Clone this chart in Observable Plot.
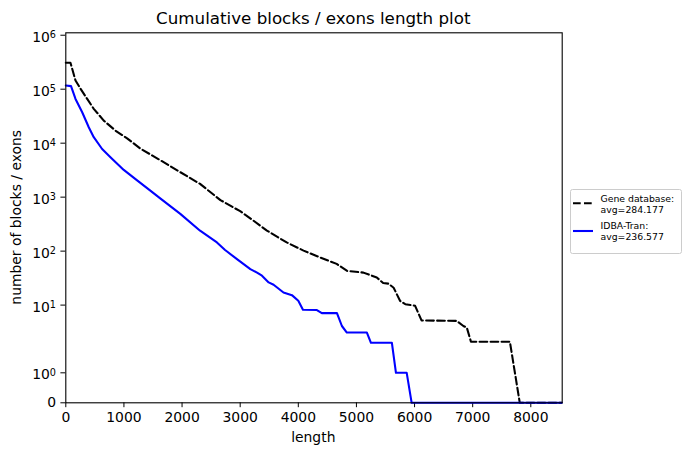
<!DOCTYPE html>
<html><head><meta charset="utf-8">
<script src="https://cdn.jsdelivr.net/npm/d3@7"></script>
<script src="https://cdn.jsdelivr.net/npm/@observablehq/plot@0.6"></script>
<style>
html,body{margin:0;padding:0;background:#fff;}
#chart{width:691px;height:455px;}
</style></head><body><div id="chart"></div>
<script>
// ---- data ----
const titleText = "Cumulative blocks / exons length plot";
const xLabel = "length";
const yLabel = "number of blocks / exons";
const seriesNames = ["Gene database:", "IDBA-Tran:"];
const seriesAvg = ["avg=284.177", "avg=236.577"];

const geneLength = [0,80,167,253,368,481,653,854,1055,1284,1570,1770,2310,2660,3000,3230,3460,3800,4090,4380,4660,4840,5120,5350,5460,5550,5640,5750,5840,6010,6120,6725,6840,6900,6970,7640,7810,8530];
const geneCount  = [310000,310000,145000,102000,66000,43300,26200,17100,12300,7900,5250,3900,1760,880,550,366,240,145,102,76,58,43,40,32.5,25.6,25,21,12,10.4,9.7,5.2,5.1,4.1,3.8,2.1,2.1,0,0];

const idbaLength = [0,90,167,282,395,481,625,768,997,1227,1443,1630,1970,2310,2600,2740,2945,3175,3290,3375,3490,3575,3745,3890,4000,4080,4320,4405,4665,4750,4835,5180,5250,5610,5680,5865,5950,8530];
const idbaCount  = [117000,114000,66000,37400,19700,12900,7800,5500,3200,2050,1350,940,490,239,145,105,71,46.5,40,35,26.3,23.8,17.1,15.3,12,8.2,8.1,7.1,7.1,4.1,3.1,3.1,2,2,1,1,0,0];

const xTicks = [0,1000,2000,3000,4000,5000,6000,7000,8000];
const yTickValues = [0,1,10,100,1000,10000,100000,1000000];
const yTickLabels = ["0","10^0","10^1","10^2","10^3","10^4","10^5","10^6"];

// ---- symlog transform (linthresh 2, linscale 1, base 10) ----
const LT = 2, LS = 1 / (1 - 1 / 10);
const T = v => v <= LT ? v * LS : LT * (LS + Math.log10(v / LT));

const geneRows = geneLength.map((x, i) => ({x, c: geneCount[i]}));
const idbaRows = idbaLength.map((x, i) => ({x, c: idbaCount[i]}));
const yTicksT = yTickValues.map(T);
const fmtY = d => {
  let best = 0, bd = Infinity;
  yTicksT.forEach((t, i) => { const dd = Math.abs(t - d); if (dd < bd) { bd = dd; best = i; } });
  return yTickLabels[best];
};

const plot = Plot.plot({
  width: 691, height: 455,
  marginLeft: 65.3, marginRight: 129.3, marginTop: 32.3, marginBottom: 52.7,
  style: {fontFamily: "DejaVu Sans", fontSize: "13.9px", color: "#000", background: "#fff", overflow: "visible"},
  x: {domain: [0, 8540], ticks: xTicks, tickSize: 4.9, tickPadding: 4.9, label: null, tickFormat: d3.format("d")},
  y: {domain: [0, 13.71], ticks: yTicksT, tickSize: 4.9, tickPadding: 4.9, label: null, tickFormat: fmtY},
  marks: [
    Plot.line(geneRows, {x: "x", y: d => T(d.c), stroke: "#000", strokeWidth: 2.08, strokeDasharray: "7.7,3.3"}),
    Plot.line(idbaRows, {x: "x", y: d => T(d.c), stroke: "#0000ff", strokeWidth: 2.08}),
    Plot.frame({stroke: "#000", strokeWidth: 1.1})
  ]
});

const svg = d3.select(plot);
// superscripts on y tick labels
svg.selectAll("g[aria-label='y-axis tick label'] text").each(function() {
  const t = this.textContent;
  const m = /^10\^(\d)$/.exec(t);
  if (m) {
    const el = d3.select(this);
    el.text("10").attr("y", "0.47em");
    el.append("tspan").attr("dy", "-3.4px").style("font-size", "9.7px").text(m[1]);
  }
});

// title
svg.append("text").attr("x", 313.3).attr("y", 24).attr("text-anchor", "middle")
  .style("font-size", "16.7px").attr("fill", "#000").text(titleText);
// axis labels
svg.append("text").attr("x", 313.3).attr("y", 441.5).attr("text-anchor", "middle")
  .style("font-size", "13.9px").attr("fill", "#000").text(xLabel);
svg.append("text").attr("transform", "translate(20.5,217.3) rotate(-90)").attr("text-anchor", "middle")
  .style("font-size", "13.9px").attr("fill", "#000").text(yLabel);

// legend
const lg = svg.append("g").attr("text-anchor", "start");
lg.append("rect").attr("x", 570.5).attr("y", 189.5).attr("width", 111).attr("height", 64).attr("rx", 2)
  .attr("fill", "#fff").attr("fill-opacity", 0.8).attr("stroke", "#cccccc").attr("stroke-width", 1);
const legendItems = [
  {stroke: "#000", dash: "7.7,3.3", ly: 203.3, b1: 202.2, b2: 212.6},
  {stroke: "#0000ff", dash: null, ly: 231, b1: 229.3, b2: 240.2}
];
legendItems.forEach((it, i) => {
  const ln = lg.append("line").attr("x1", 573).attr("x2", 593).attr("y1", it.ly).attr("y2", it.ly)
    .attr("stroke", it.stroke).attr("stroke-width", 2.08);
  if (it.dash) ln.attr("stroke-dasharray", it.dash);
  lg.append("text").attr("x", 600.5).attr("y", it.b1).attr("text-anchor", "start").style("font-size", "9.3px").attr("fill", "#000").text(seriesNames[i]);
  lg.append("text").attr("x", 600.5).attr("y", it.b2).attr("text-anchor", "start").style("font-size", "9.3px").attr("fill", "#000").text(seriesAvg[i]);
});

document.getElementById("chart").appendChild(plot);
</script></body></html>
